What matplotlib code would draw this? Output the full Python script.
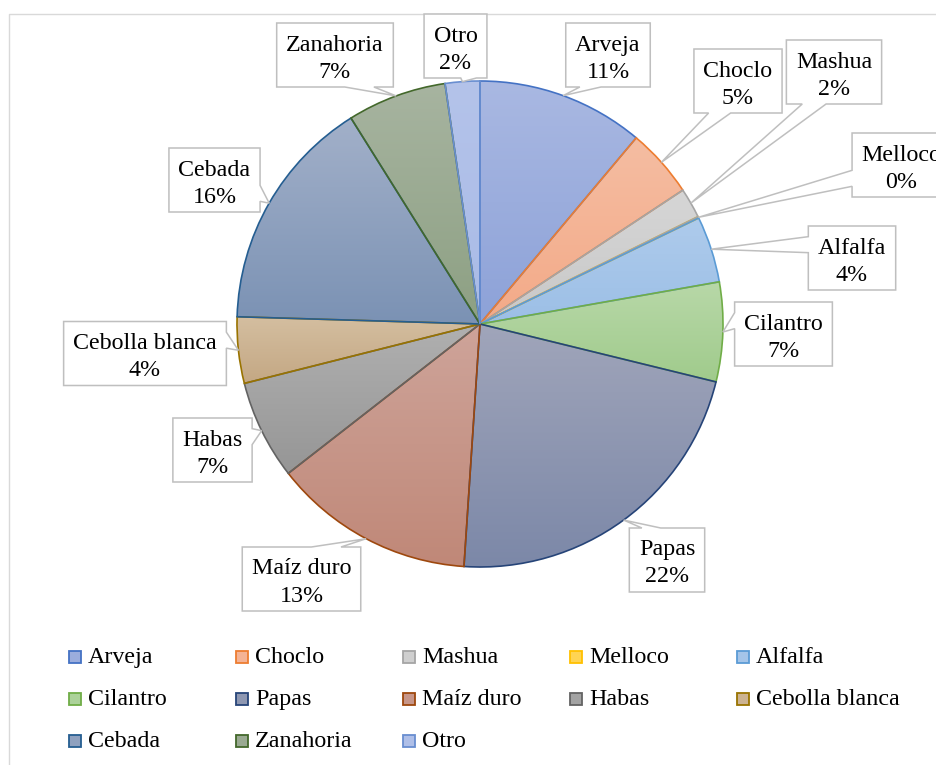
import matplotlib
matplotlib.use('Agg')
import matplotlib.pyplot as plt
from matplotlib.patches import Polygon, Rectangle
from matplotlib.colors import to_rgb
import numpy as np

W, H = 936, 765

cultivos = ['Arveja', 'Choclo', 'Mashua', 'Melloco', 'Alfalfa', 'Cilantro', 'Papas',
            'Maíz duro', 'Habas', 'Cebolla blanca', 'Cebada', 'Zanahoria', 'Otro']
porcentaje = [11.1, 4.6, 2.0, 0.1, 4.4, 6.6, 22.2, 13.4, 6.6, 4.4, 15.6, 6.6, 2.3]

bordes = ['#4472C4', '#ED7D31', '#A5A5A5', '#FFC000', '#5B9BD5', '#70AD47', '#264478',
          '#9E480E', '#636363', '#997300', '#255E91', '#43682B', '#698ED0']
# relleno en degradado: color arriba / color abajo
claro = ['#A9B8E2', '#F5BDA2', '#D6D6D6', '#FFD966', '#AECBEC', '#B8D8A8', '#A0A5BA',
         '#CEA49A', '#B0B0B0', '#D4BEA0', '#A2B0C9', '#A7B4A0', '#B4C3EA']
oscuro = ['#8DA2D8', '#F3AA88', '#C8C8C8', '#FFCF40', '#9CBFE6', '#A0CB8C', '#7C88A8',
          '#C08878', '#969696', '#C4A884', '#7B92B4', '#8DA083', '#A9BBE6']

# centros de las etiquetas en pixeles (origen arriba a la izquierda)
etiquetas_pos = [(608, 55), (738, 81), (834, 72), (901.5, 165), (852, 258), (783.5, 334),
                 (667, 560), (301.5, 579), (212.5, 450), (145, 353.5), (214.5, 180),
                 (335, 55), (455.5, 46)]

plt.rcParams['font.family'] = ['Liberation Serif', 'DejaVu Serif']
FS = 24 * 72 / 100
GRIS = '#BFBFBF'


def degradado(c1, c2, n=64):
    arriba = np.array(to_rgb(c1))
    abajo = np.array(to_rgb(c2))
    s = np.linspace(0, 1, n)[:, None]
    return (arriba * (1 - s) + abajo * s)[:, None, :]


def globo(cx, cy, w, h, tx, ty):
    # rectangulo con flecha hacia (tx, ty), coordenadas en pixeles
    l, r, t, b = cx - w / 2, cx + w / 2, cy - h / 2, cy + h / 2
    dx, dy = tx - cx, ty - cy
    if abs(dy) > abs(dx * h / w):
        x1 = l + w * (7 if dx > 0 else 2) / 12
        x2 = l + w * (10 if dx > 0 else 5) / 12
        if dy > 0:
            pts = [(l, t), (r, t), (r, b), (x2, b), (tx, ty), (x1, b), (l, b)]
        else:
            pts = [(l, t), (x1, t), (tx, ty), (x2, t), (r, t), (r, b), (l, b)]
    else:
        y1 = t + h * (7 if dy > 0 else 2) / 12
        y2 = t + h * (10 if dy > 0 else 5) / 12
        if dx > 0:
            pts = [(l, t), (r, t), (r, y1), (tx, ty), (r, y2), (r, b), (l, b)]
        else:
            pts = [(l, t), (r, t), (r, b), (l, b), (l, y2), (tx, ty), (l, y1)]
    return [(x, H - y) for x, y in pts]


fig = plt.figure(figsize=(W / 100, H / 100), dpi=100)
ax = fig.add_axes([0, 0, 1, 1])

cx, cy, R = 480, 324, 243
wedges, _ = ax.pie(porcentaje, startangle=90, counterclock=False, center=(cx, H - cy),
                   radius=R, frame=True, wedgeprops=dict(linewidth=1.2))

for w, ec, c1, c2 in zip(wedges, bordes, claro, oscuro):
    w.set_facecolor('none')
    w.set_edgecolor(ec)
    # las porciones casi vacias quedan debajo de los bordes vecinos
    w.set_zorder(3 if w.theta2 - w.theta1 > 1 else 2.5)
    bb = w.get_path().get_extents()
    im = ax.imshow(degradado(c1, c2), extent=(bb.x0, bb.x1, bb.y0, bb.y1), origin='upper',
                   aspect='auto', interpolation='bilinear', zorder=2)
    im.set_clip_path(w)

renderer = fig.canvas.get_renderer()
total = sum(porcentaje)
for w, nombre, p, (bx, by) in zip(wedges, cultivos, porcentaje, etiquetas_pos):
    t1 = ax.text(bx, H - (by - 4.5), nombre, ha='center', va='baseline', fontsize=FS, zorder=6)
    t2 = ax.text(bx, H - (by + 22.5), f'{p / total * 100:.0f}%', ha='center', va='baseline',
                 fontsize=FS, zorder=6)
    ancho = max(t1.get_window_extent(renderer).width, t2.get_window_extent(renderer).width) + 19
    ang = np.radians((w.theta1 + w.theta2) / 2)
    tx, ty = cx + R * np.cos(ang), cy - R * np.sin(ang)
    ax.add_patch(Polygon(globo(bx, by, ancho, 64, tx, ty), closed=True, fc='white',
                         ec=GRIS, lw=1.1, zorder=5))

# leyenda en tres filas de cinco columnas
for i, (nombre, ec, c1, c2) in enumerate(zip(cultivos, bordes, claro, oscuro)):
    fila, col = divmod(i, 5)
    x0 = 69 + col * 167
    base = 663 + fila * 42
    medio = (np.array(to_rgb(c1)) + np.array(to_rgb(c2))) / 2
    ax.add_patch(Rectangle((x0, H - base), 12, 12, fc=medio, ec=ec, lw=1.3, zorder=4))
    ax.text(x0 + 19, H - base, nombre, va='baseline', fontsize=FS, zorder=4)

ax.plot([9, 9, W], [0, H - 14, H - 14], color='#D9D9D9', lw=1.0, zorder=1)

ax.set_xlim(0, W)
ax.set_ylim(0, H)
ax.axis('off')

fig.savefig('out.png', dpi=100)
